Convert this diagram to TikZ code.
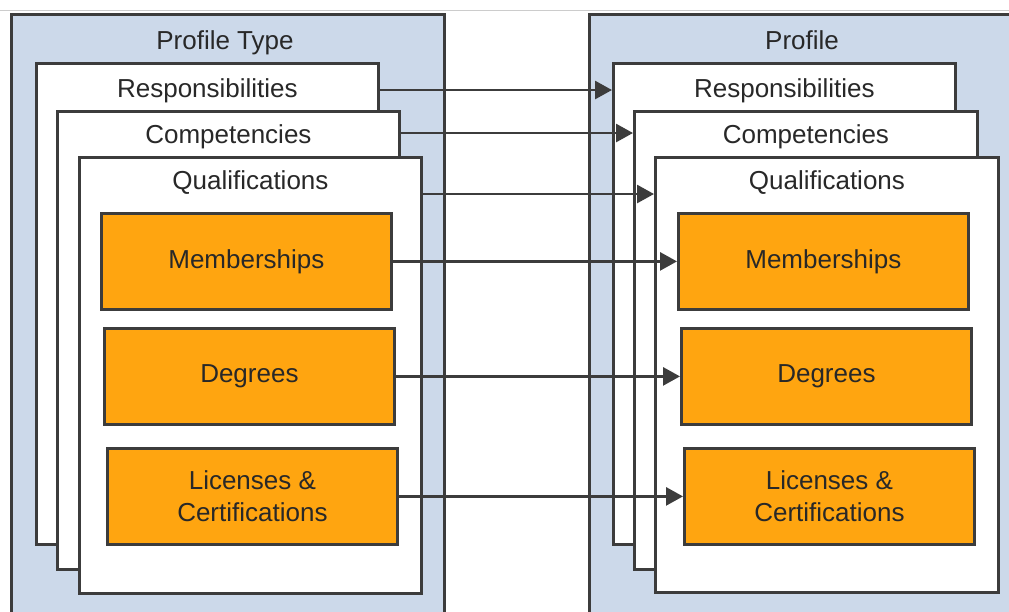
\documentclass[tikz,border=0pt]{standalone}
\usepackage{fontspec}
\setmainfont{Liberation Sans}
\usetikzlibrary{arrows.meta}
\usetikzlibrary{calc}
\definecolor{panelblue}{RGB}{204,217,234}
\definecolor{boxorange}{RGB}{255,165,16}
\definecolor{edgegray}{RGB}{60,60,60}
\definecolor{textgray}{RGB}{40,40,40}
\tikzset{
    panel/.style={draw=edgegray, line width=3pt, fill=panelblue, anchor=north west, inner sep=0pt},
    card/.style={draw=edgegray, line width=2.8pt, fill=white, anchor=north west, inner sep=0pt},
    item/.style={draw=edgegray, line width=2.8pt, fill=boxorange, anchor=north west, inner sep=0pt,
        minimum width=290pt, minimum height=96pt, align=center, text=textgray},
    title/.style={text=textgray, anchor=base},
    link/.style={draw=edgegray, line width=2.8pt, -{Triangle[length=17pt,width=18pt]}}
}
\begin{document}
\begin{tikzpicture}[x=1pt, y=-1pt, font=\fontsize{26}{32}\selectfont]
    \clip (0,0) rectangle (1009,611);
    \fill[white] (0,0) rectangle (1009,611);
    \draw[gray!40, line width=1.2pt] (0,10.5)--(1009,10.5);%top rule
    % - Panels
    \node[panel, minimum width=433pt, minimum height=640pt] (ptype) at (10,13) {};
    \node[panel, minimum width=460pt, minimum height=640pt] (prof) at (588,13) {};
    \node[title] (ptypet) at (225,49) {Profile Type};
    \node[title] (proft) at (802,49) {Profile};
    % - Profile Type cards
    \node[card, minimum width=342pt, minimum height=481pt] (resL) at (35,62) {};
    \node[card, minimum width=342pt, minimum height=458pt] (comL) at (56,110) {};
    \node[card, minimum width=342pt, minimum height=436pt] (quaL) at (78,156) {};
    \node[title] (resLt) at ($(resL.north)+(0,35)$) {Responsibilities};
    \node[title] (comLt) at ($(comL.north)+(0,33)$) {Competencies};
    \node[title] (quaLt) at ($(quaL.north)+(0,33)$) {Qualifications};
    \node[item] (memL) at (100,212) {Memberships};
    \node[item] (degL) at (103,327) {Degrees};
    \node[item] (licL) at (106,447) {Licenses \&\\Certifications};
    % - Profile cards
    \node[card, minimum width=342pt, minimum height=481pt] (resR) at (612,62) {};
    \node[card, minimum width=343pt, minimum height=458pt] (comR) at (633,110) {};
    \node[card, minimum width=343pt, minimum height=435pt] (quaR) at (654,156) {};
    \node[title] (resRt) at ($(resR.north)+(0,35)$) {Responsibilities};
    \node[title] (comRt) at ($(comR.north)+(0,33)$) {Competencies};
    \node[title] (quaRt) at ($(quaR.north)+(0,33)$) {Qualifications};
    \node[item] (memR) at (677,212) {Memberships};
    \node[item] (degR) at (680,327) {Degrees};
    \node[item] (licR) at (683,447) {Licenses \&\\Certifications};
    % - Arrows
    \draw[link] (resL.east |- 0,90) -- (resR.west |- 0,90);
    \draw[link] (comL.east |- 0,133) -- (comR.west |- 0,133);
    \draw[link] (quaL.east |- 0,194) -- (quaR.west |- 0,194);
    \draw[link] (memL) -- (memR);
    \draw[link] (degL) -- (degR);
    \draw[link] (licL) -- (licR);
\end{tikzpicture}
\end{document}
